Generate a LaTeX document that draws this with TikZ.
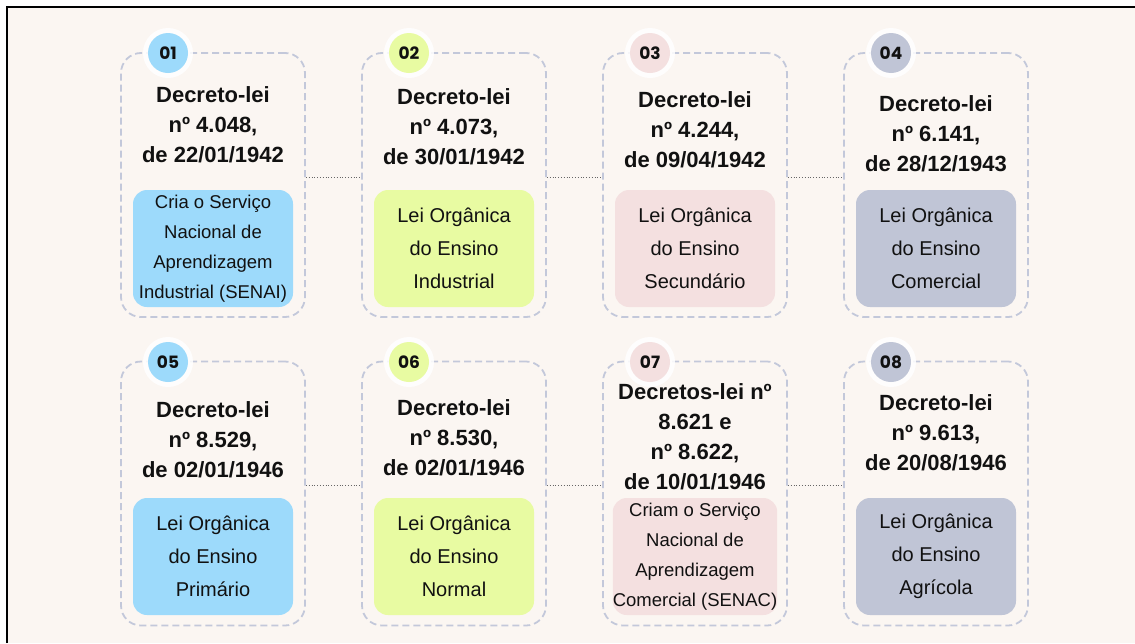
\documentclass[tikz,border=0pt]{standalone}
\usepackage{fontspec}
\setmainfont{Liberation Sans}
\newfontfamily\badgefont{Poppins}
\definecolor{bg}{HTML}{FBF6F2}
\definecolor{dashc}{HTML}{C3C8DA}
\definecolor{cblue}{HTML}{9DDAFB}
\definecolor{cgreen}{HTML}{E8FBA2}
\definecolor{cpink}{HTML}{F4E0E0}
\definecolor{cgrey}{HTML}{C0C5D6}
\definecolor{ink}{HTML}{111111}
\definecolor{conn}{HTML}{666666}
\tikzset{
  cardbox/.style={draw=dashc, line width=1.8pt, dash pattern=on 7pt off 4pt,
    rounded corners=20pt, minimum width=184pt, minimum height=264pt, inner sep=0pt},
  halo/.style={circle, fill=white, fill opacity=0.85, minimum size=50pt, inner sep=0pt},
  badge/.style={circle, fill=#1, minimum size=40pt, inner sep=0pt,
    font=\badgefont\bfseries\fontsize{17}{17}\selectfont, text=ink},
  titletext/.style={align=center, text=ink, font=\bfseries\fontsize{22}{30}\selectfont, inner sep=0pt},
  infobox/.style={fill=#1, rounded corners=14pt, minimum width=160pt, minimum height=117pt,
    align=center, text=ink, inner sep=0pt, font=\fontsize{20}{33}\selectfont},
  smallinfo/.style={font=\fontsize{18.5}{30}\selectfont},
  link/.style={draw=conn, line width=0.8pt, dotted}
}
\begin{document}
\begin{tikzpicture}[x=1pt,y=-1pt]
\useasboundingbox (0,0) rectangle (1135,643);
\fill[white] (0,0) rectangle (1135,643);
\fill[bg] (7,7) rectangle (1135,643);
\draw[line width=2.2pt, black] (7,643) -- (7,7) -- (1135,7);

% cards row 1
\node[cardbox] (c1) at (213,185) {};
\node[cardbox] (c2) at (454,185) {};
\node[cardbox] (c3) at (695,185) {};
\node[cardbox] (c4) at (936,185) {};
% cards row 2
\node[cardbox] (c5) at (213,493.5) {};
\node[cardbox] (c6) at (454,493.5) {};
\node[cardbox] (c7) at (695,493.5) {};
\node[cardbox] (c8) at (936,493.5) {};

% connectors
\draw[link] ([yshift=8pt]c1.east) -- ([yshift=8pt]c2.west);
\draw[link] ([yshift=8pt]c2.east) -- ([yshift=8pt]c3.west);
\draw[link] ([yshift=8pt]c3.east) -- ([yshift=8pt]c4.west);
\draw[link] ([yshift=8pt]c5.east) -- ([yshift=8pt]c6.west);
\draw[link] ([yshift=8pt]c6.east) -- ([yshift=8pt]c7.west);
\draw[link] ([yshift=8pt]c7.east) -- ([yshift=8pt]c8.west);

% badges
\node[halo] (h1) at (168,53) {};
\node[badge=cblue] (b1) at (h1) {01};
\node[halo] (h2) at (409,53) {};
\node[badge=cgreen] (b2) at (h2) {02};
\node[halo] (h3) at (650,53) {};
\node[badge=cpink] (b3) at (h3) {03};
\node[halo] (h4) at (891,53) {};
\node[badge=cgrey] (b4) at (h4) {04};
\node[halo] (h5) at (168,362) {};
\node[badge=cblue] (b5) at (h5) {05};
\node[halo] (h6) at (409,362) {};
\node[badge=cgreen] (b6) at (h6) {06};
\node[halo] (h7) at (650,362) {};
\node[badge=cpink] (b7) at (h7) {07};
\node[halo] (h8) at (891,362) {};
\node[badge=cgrey] (b8) at (h8) {08};

% titles
\node[titletext] (t1) at (213,124.5) {Decreto-lei\\nº 4.048,\\de 22/01/1942};
\node[titletext] (t2) at (454,127) {Decreto-lei\\nº 4.073,\\de 30/01/1942};
\node[titletext] (t3) at (695,130) {Decreto-lei\\nº 4.244,\\de 09/04/1942};
\node[titletext] (t4) at (936,133.5) {Decreto-lei\\nº 6.141,\\de 28/12/1943};
\node[titletext] (t5) at (213,440) {Decreto-lei\\nº 8.529,\\de 02/01/1946};
\node[titletext] (t6) at (454,438) {Decreto-lei\\nº 8.530,\\de 02/01/1946};
\node[titletext] (t7) at (695,436.5) {Decretos-lei nº\\8.621 e\\nº 8.622,\\de 10/01/1946};
\node[titletext] (t8) at (936,432.5) {Decreto-lei\\nº 9.613,\\de 20/08/1946};

% info boxes
\node[infobox=cblue, smallinfo] (i1) at (213,248.5) {Cria o Serviço\\Nacional de\\Aprendizagem\\Industrial (SENAI)};
\node[infobox=cgreen] (i2) at (454,248.5) {Lei Orgânica\\do Ensino\\Industrial};
\node[infobox=cpink] (i3) at (695,248.5) {Lei Orgânica\\do Ensino\\Secundário};
\node[infobox=cgrey] (i4) at (936,248.5) {Lei Orgânica\\do Ensino\\Comercial};
\node[infobox=cblue] (i5) at (213,556.5) {Lei Orgânica\\do Ensino\\Primário};
\node[infobox=cgreen] (i6) at (454,556.5) {Lei Orgânica\\do Ensino\\Normal};
\node[infobox=cpink, smallinfo] (i7) at (695,556.5) {Criam o Serviço\\Nacional de\\Aprendizagem\\Comercial (SENAC)};
\node[infobox=cgrey] (i8) at (936,556.5) {Lei Orgânica\\do Ensino\\Agrícola};
\end{tikzpicture}
\end{document}
